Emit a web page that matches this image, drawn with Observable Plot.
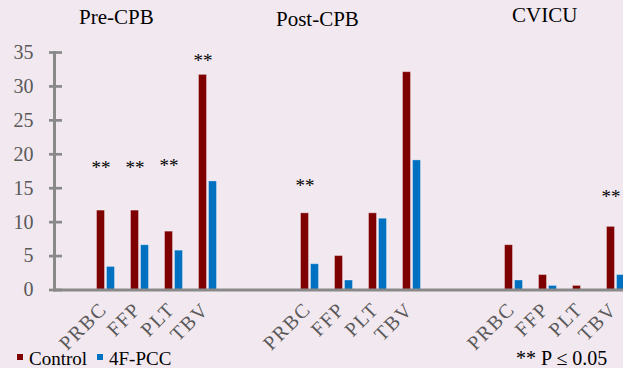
<!DOCTYPE html>
<html>
<head>
<meta charset="utf-8">
<script src="https://cdn.jsdelivr.net/npm/d3@7"></script>
<script src="https://cdn.jsdelivr.net/npm/@observablehq/plot@0.6"></script>
<style>
  html, body { margin: 0; padding: 0; background: #f2e8f0; overflow: hidden; }
  #wrap { position: relative; width: 623px; height: 368px; overflow: hidden; background: #f2e8f0; font-family: "Liberation Serif", serif; }
  #wrap svg { display: block; }
  #wrap g[aria-label="fx-axis tick label"] text { letter-spacing: 1.6px; }
  .ov { position: absolute; white-space: nowrap; color: #000; }
  .sq { position: absolute; width: 6px; height: 6px; }
</style>
</head>
<body>
<div id="wrap">
  <div class="ov" style="left:79px; top:7.4px; font-size:21px; line-height:21px;">Pre-CPB</div>
  <div class="ov" style="left:276px; top:9.4px; font-size:21px; line-height:21px;">Post-CPB</div>
  <div class="ov" style="left:512px; top:5.4px; font-size:21px; line-height:21px;">CVICU</div>
  <div class="sq" style="left:17px; top:354px; background:#7f0000;"></div>
  <div class="ov" style="left:29px; top:351.8px; font-size:19px; line-height:14px;">Control</div>
  <div class="sq" style="left:97px; top:354px; background:#0070c0;"></div>
  <div class="ov" style="left:109px; top:351.8px; font-size:19px; line-height:14px;">4F-PCC</div>
  <div class="ov" style="left:516px; top:351px; font-size:20px; line-height:14px;">** P ≤ 0.05</div>
</div>
<script>
const phases = ["Pre-CPB", "Post-CPB", "CVICU"];
const products = ["PRBC", "FFP", "PLT", "TBV"];
const series = ["Control", "4F-PCC"];
// values in phase order (Pre-CPB, Post-CPB, CVICU) x product order
const controlValues = [11.7, 11.7, 8.6, 31.7,  11.3, 5.0, 11.3, 32.1,  6.6, 2.2, 0.6, 9.3];
const pccValues     = [3.4, 6.6, 5.8, 16.0,    3.8, 1.4, 10.5, 19.1,   1.4, 0.6, 0.0, 2.2];
const yTicks = [0, 5, 10, 15, 20, 25, 30, 35];
// significance markers (** P <= 0.05) and the height where each is written
const sigPhase   = ["Pre-CPB", "Pre-CPB", "Pre-CPB", "Pre-CPB", "Post-CPB", "CVICU"];
const sigProduct = ["PRBC", "FFP", "PLT", "TBV", "PRBC", "TBV"];
const sigHeight  = [18.6, 18.6, 18.9, 34.3, 15.9, 14.3];

// category slots: blank slots separate the phases
const slots = ["gap-0"];
phases.forEach((p, i) => {
  if (i > 0) slots.push(`gap-${i}a`, `gap-${i}b`);
  products.forEach(pr => slots.push(`${p}|${pr}`));
});
const productSlots = slots.filter(s => s.includes("|"));

const rows = [];
phases.forEach((p, i) => products.forEach((pr, j) => {
  const k = i * products.length + j;
  rows.push({slot: `${p}|${pr}`, series: series[0], value: controlValues[k]});
  rows.push({slot: `${p}|${pr}`, series: series[1], value: pccValues[k]});
}));
const sigRows = sigPhase.map((p, i) => ({slot: `${p}|${sigProduct[i]}`, y: sigHeight[i]}));

const chart = Plot.plot({
  width: 623,
  height: 368,
  marginTop: 52,
  marginBottom: 78.5,
  marginLeft: 52.5,
  marginRight: 0,
  style: {background: "transparent", fontFamily: "Liberation Serif, serif", overflow: "hidden"},
  fx: {domain: slots, range: [52.5, 634.2], padding: 0, label: null},
  x: {domain: series, paddingInner: 0.238, paddingOuter: 0.749, axis: null},
  y: {domain: [0, 35], label: null},
  color: {domain: series, range: ["#7f0000", "#0070c0"]},
  marks: [
    Plot.barY(rows, {fx: "slot", x: "series", y: "value", fill: "series",
      stroke: "white", strokeOpacity: 0.35, strokeWidth: 1}),
    Plot.ruleY(slots, {fx: d => d, y: () => 0, stroke: "#898989", strokeWidth: 3}),
    Plot.frame({anchor: "left", facetAnchor: "left", stroke: "#898989", strokeWidth: 3}),
    Plot.axisY({ticks: yTicks, tickSize: 13, dx: 8, stroke: "#898989", strokeWidth: 2.7, fill: "none", label: null}),
    Plot.axisY({ticks: yTicks, tickSize: 0, tickPadding: 21, fontSize: 20, fill: "#595959", label: null}),
    Plot.axisFx({ticks: productSlots, tickFormat: k => k.split("|")[1], anchor: "bottom",
      tickRotate: -45, tickSize: 0, tickPadding: 16, dx: -2, fontSize: 20, fill: "#595959", label: null}),
    Plot.text(sigRows, {fx: "slot", x: () => series[0], y: "y", text: () => "**",
      fontSize: 19, fill: "black", dy: 4})
  ]
});
document.getElementById("wrap").prepend(chart);
</script>
</body>
</html>
